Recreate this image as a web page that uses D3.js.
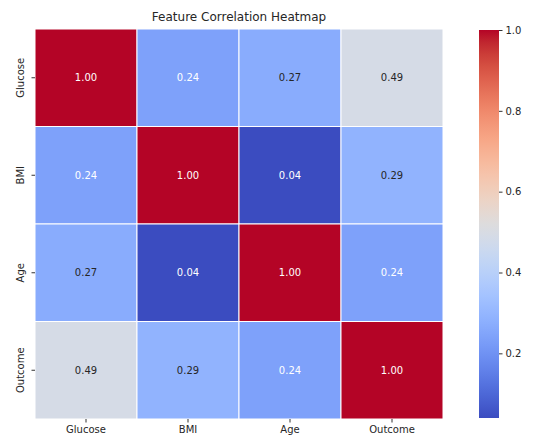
<!DOCTYPE html>
<html>
<head>
<meta charset="utf-8">
<script src="https://cdn.jsdelivr.net/npm/d3@7"></script>
<style>
  html, body { margin: 0; padding: 0; background: #fff; }
  svg { display: block; font-family: "DejaVu Sans", sans-serif; }
</style>
</head>
<body>
<svg id="chart" width="535" height="438"></svg>
<script>
// Features shown on both axes
const features = ["Glucose", "BMI", "Age", "Outcome"];

// Correlation matrix, one row per feature
const rowGlucose = [1.00, 0.24, 0.27, 0.49];
const rowBMI     = [0.24, 1.00, 0.04, 0.29];
const rowAge     = [0.27, 0.04, 1.00, 0.24];
const rowOutcome = [0.49, 0.29, 0.24, 1.00];
const matrix = [rowGlucose, rowBMI, rowAge, rowOutcome];

// Colour bar tick values
const colorbarTicks = [0.2, 0.4, 0.6, 0.8, 1.0];

// Coolwarm diverging palette stops (blue -> grey -> red)
const coolwarmStops = [
  [59,76,192],[68,90,204],[77,104,215],[87,117,225],[98,130,234],[108,142,241],
  [119,154,247],[130,165,251],[141,176,254],[152,185,255],[163,194,255],[174,201,253],
  [184,208,249],[194,213,244],[204,217,238],[213,219,230],[221,221,221],[229,216,209],
  [236,211,197],[241,204,184],[245,196,172],[247,187,159],[247,177,147],[247,166,134],
  [244,154,123],[241,141,111],[236,127,99],[229,112,88],[222,96,77],[213,80,66],
  [203,62,56],[192,40,47],[180,4,38]
].map(c => d3.rgb(c[0], c[1], c[2]).toString());
const coolwarm = d3.interpolateRgbBasis(coolwarmStops);

const cells = [];
matrix.forEach((row, i) => row.forEach((v, j) => cells.push({ r: features[i], c: features[j], v })));
const vmin = d3.min(cells, d => d.v);
const vmax = d3.max(cells, d => d.v);

const color = d3.scaleSequential(coolwarm).domain([vmin, vmax]);

const svg = d3.select("#chart");
const plot = { left: 35, top: 29, right: 443, bottom: 419 };

const x = d3.scaleBand().domain(features).range([plot.left, plot.right]);
const y = d3.scaleBand().domain(features).range([plot.top, plot.bottom]);

// Heatmap cells with thin white separators
svg.append("g").selectAll("rect").data(cells).join("rect")
  .attr("x", d => x(d.c))
  .attr("y", d => y(d.r))
  .attr("width", x.bandwidth())
  .attr("height", y.bandwidth())
  .attr("fill", d => color(d.v))
  .attr("stroke", "#ffffff")
  .attr("stroke-width", 1);

// Annotations: light text on dark cells, dark text on light cells
function luminance(c) {
  const rgb = d3.rgb(c);
  const f = v => { v /= 255; return v <= 0.03928 ? v / 12.92 : Math.pow((v + 0.055) / 1.055, 2.4); };
  return 0.2126 * f(rgb.r) + 0.7152 * f(rgb.g) + 0.0722 * f(rgb.b);
}
svg.append("g").selectAll("text").data(cells).join("text")
  .attr("x", d => x(d.c) + x.bandwidth() / 2)
  .attr("y", d => y(d.r) + y.bandwidth() / 2)
  .attr("text-anchor", "middle")
  .attr("dominant-baseline", "central")
  .attr("font-size", 10)
  .attr("fill", d => luminance(color(d.v)) > 0.408 ? "#262626" : "#ffffff")
  .text(d => d.v.toFixed(2));

// Bottom axis
const xAxis = svg.append("g")
  .attr("transform", `translate(0,${plot.bottom})`)
  .call(d3.axisBottom(x).tickSize(3.5).tickPadding(3));
xAxis.select(".domain").remove();
xAxis.selectAll("line").attr("stroke", "#333");
xAxis.selectAll("text").attr("font-size", 10).attr("fill", "#262626")
  .attr("font-family", "DejaVu Sans, sans-serif");

// Left axis with vertical labels
const yAxis = svg.append("g")
  .attr("transform", `translate(${plot.left},0)`)
  .call(d3.axisLeft(y).tickSize(3.5).tickPadding(3));
yAxis.select(".domain").remove();
yAxis.selectAll("line").attr("stroke", "#333");
yAxis.selectAll("text")
  .attr("font-size", 10).attr("fill", "#262626")
  .attr("font-family", "DejaVu Sans, sans-serif")
  .attr("text-anchor", "middle")
  .attr("dy", null)
  .attr("x", null)
  .attr("transform", "translate(-15,0) rotate(-90)")
  .attr("dominant-baseline", "central");

// Title
svg.append("text")
  .attr("x", (plot.left + plot.right) / 2)
  .attr("y", 21)
  .attr("text-anchor", "middle")
  .attr("font-size", 12)
  .attr("fill", "#262626")
  .text("Feature Correlation Heatmap");

// Colour bar
const cb = { x: 479, w: 20, top: 30, bottom: 418 };
const cbScale = d3.scaleLinear().domain([vmin, vmax]).range([cb.bottom, cb.top]);

const defs = svg.append("defs");
const grad = defs.append("linearGradient")
  .attr("id", "cbGrad").attr("x1", 0).attr("x2", 0).attr("y1", 1).attr("y2", 0);
d3.range(0, 1.0001, 1 / 32).forEach(t => {
  grad.append("stop").attr("offset", t).attr("stop-color", coolwarm(t));
});
svg.append("rect")
  .attr("x", cb.x).attr("y", cb.top)
  .attr("width", cb.w).attr("height", cb.bottom - cb.top)
  .attr("fill", "url(#cbGrad)");

const cbAxis = svg.append("g")
  .attr("transform", `translate(${cb.x + cb.w},0)`)
  .call(d3.axisRight(cbScale).tickValues(colorbarTicks).tickFormat(d3.format(".1f")).tickSize(3.5).tickPadding(3));
cbAxis.select(".domain").remove();
cbAxis.selectAll("line").attr("stroke", "#333");
cbAxis.selectAll("text").attr("font-size", 10).attr("fill", "#262626")
  .attr("font-family", "DejaVu Sans, sans-serif");
</script>
</body>
</html>
